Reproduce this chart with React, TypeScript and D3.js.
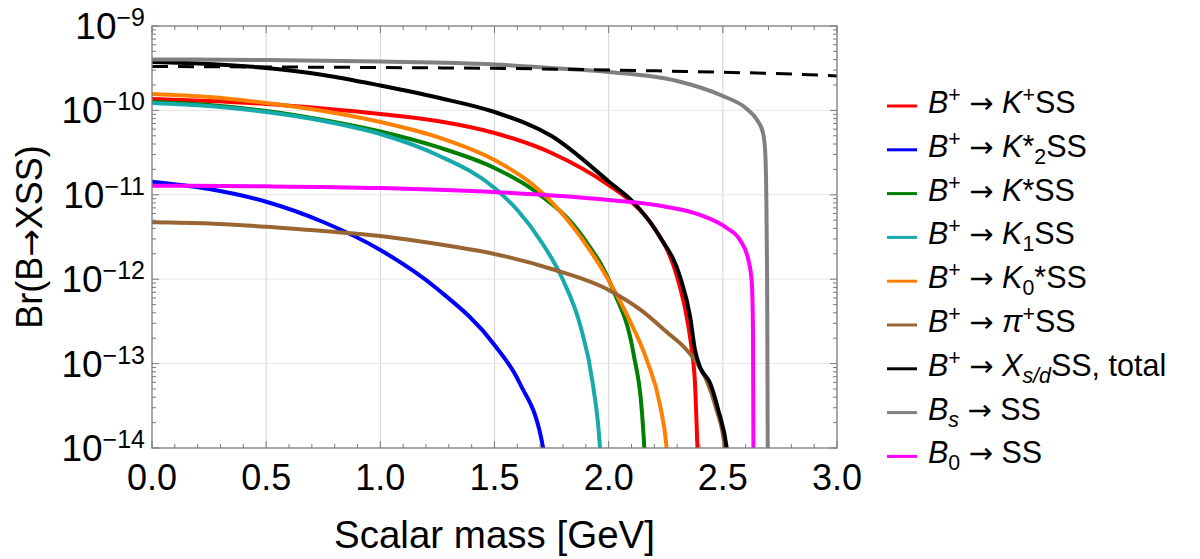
import React from 'react';
import * as d3 from 'd3';

type Pt = [number, number];

// branching ratios vs scalar mass [GeV]
const kPlus: Pt[] = [
  [0, 1.365e-10], [0.25, 1.292e-10], [0.5, 1.19e-10], [0.75, 1.053e-10], [1.0, 9.06e-11],
  [1.25, 7.49e-11], [1.5, 5.4e-11], [1.75, 3.13e-11], [2.0, 1.306e-11], [2.1, 8.21e-12],
  [2.2, 4.04e-12], [2.3, 1.06e-12], [2.342, 3.56e-13], [2.364, 1.45e-13],
  [2.378, 5.89e-14], [2.389, 1.0e-14], [2.395, 4.2e-15],
];
const kStar2: Pt[] = [
  [0, 1.43e-11], [0.25, 1.17e-11], [0.5, 8.28e-12], [0.75, 4.76e-12], [1.0, 2.22e-12],
  [1.25, 7.65e-13], [1.5, 1.66e-13], [1.61, 5.89e-14], [1.713, 1.0e-14], [1.73, 4.2e-15],
];
const kStar: Pt[] = [
  [0, 1.257e-10], [0.25, 1.159e-10], [0.5, 9.84e-11], [0.75, 7.7e-11], [1.0, 5.62e-11],
  [1.25, 3.69e-11], [1.5, 2.08e-11], [1.67, 1.14e-11], [1.89, 3.08e-12], [2.02, 7.45e-13],
  [2.11, 1.26e-13], [2.145, 2.82e-14], [2.156, 1.0e-14], [2.162, 4.2e-15],
];
const k1: Pt[] = [
  [0, 1.224e-10], [0.25, 1.127e-10], [0.5, 9.57e-11], [0.75, 7.49e-11], [1.0, 5.25e-11],
  [1.25, 2.96e-11], [1.5, 1.204e-11], [1.6, 6.61e-12], [1.7, 2.91e-12], [1.8, 9.78e-13],
  [1.875, 2.87e-13], [1.93, 5.89e-14], [1.962, 1.0e-14], [1.97, 4.2e-15],
];
const k0Star: Pt[] = [
  [0, 1.564e-10], [0.25, 1.441e-10], [0.5, 1.224e-10], [0.75, 9.84e-11], [1.0, 7.29e-11],
  [1.25, 4.84e-11], [1.5, 2.58e-11], [1.67, 1.306e-11], [1.82, 5.03e-12], [1.96, 1.47e-12],
  [2.08, 3.77e-13], [2.167, 1.1e-13], [2.225, 3.23e-14], [2.254, 1.0e-14], [2.265, 4.2e-15],
];
const piPlus: Pt[] = [
  [0, 4.72e-12], [0.25, 4.57e-12], [0.5, 4.19e-12], [0.75, 3.72e-12], [1.0, 3.25e-12],
  [1.25, 2.61e-12], [1.5, 1.99e-12], [1.75, 1.32e-12], [2.0, 7.45e-13], [2.14, 4.32e-13],
  [2.254, 2.37e-13], [2.342, 1.45e-13], [2.386, 1.02e-13], [2.43, 6.22e-14], [2.47, 2.98e-14],
  [2.51, 9.5e-15], [2.52, 4.2e-15],
];
const total: Pt[] = [
  [0, 3.75e-10], [0.25, 3.55e-10], [0.5, 3.18e-10], [0.75, 2.63e-10], [1.0, 1.97e-10],
  [1.25, 1.42e-10], [1.5, 9.57e-11], [1.75, 4.97e-11], [2.0, 1.44e-11],
  [2.12, 7.57e-12], [2.225, 3.16e-12], [2.313, 1.06e-12], [2.357, 3.56e-13], [2.378, 1.45e-13],
  [2.4, 9.12e-14], [2.444, 5.89e-14], [2.48, 2.82e-14], [2.517, 1.0e-14], [2.53, 4.8e-15],
];
const bsSS: Pt[] = [
  [0, 4.01e-10], [0.5, 3.95e-10], [1.0, 3.79e-10], [1.5, 3.5e-10], [1.75, 3.18e-10],
  [2.0, 2.85e-10], [2.3, 2.23e-10], [2.5, 1.48e-10], [2.6, 1.07e-10], [2.65, 7.69e-11],
  [2.675, 5.55e-11], [2.685, 3.4e-11], [2.69, 1.14e-11], [2.694, 9.8e-13], [2.698, 1.0e-15],
];
const b0SS: Pt[] = [
  [0, 1.28e-11], [0.5, 1.26e-11], [1.0, 1.204e-11], [1.5, 1.079e-11], [2.0, 8.68e-12],
  [2.25, 7.23e-12], [2.4, 5.77e-12], [2.517, 4.04e-12], [2.575, 2.91e-12], [2.612, 1.69e-12],
  [2.627, 9.02e-13], [2.632, 2.5e-13], [2.634, 1.0e-14], [2.636, 4.2e-15],
];
// upper limit, dashed
const bound: Pt[] = [
  [0, 3.31e-10], [0.5, 3.27e-10], [1.0, 3.22e-10], [1.5, 3.15e-10], [2.0, 3.01e-10],
  [2.5, 2.83e-10], [2.8, 2.7e-10], [3.0, 2.56e-10],
];

type Seg = { t: string; it?: boolean; sup?: boolean; sub?: boolean; sym?: boolean };
const arrow: Seg[] = [{ t: ' ' }, { t: '\u2192', sym: true }, { t: ' ' }];
const bPlus: Seg[] = [{ t: 'B', it: true }, { t: '+', sup: true }, ...arrow];

const series: { data: Pt[]; color: string; label: Seg[] }[] = [
  { data: kPlus, color: '#ff0000', label: [...bPlus, { t: 'K', it: true }, { t: '+', sup: true }, { t: 'SS' }] },
  { data: kStar2, color: '#0000ff', label: [...bPlus, { t: 'K', it: true }, { t: '*' }, { t: '2', sub: true }, { t: 'SS' }] },
  { data: kStar, color: '#007f00', label: [...bPlus, { t: 'K', it: true }, { t: '*SS' }] },
  { data: k1, color: '#17aaaa', label: [...bPlus, { t: 'K', it: true }, { t: '1', sub: true }, { t: 'SS' }] },
  { data: k0Star, color: '#ff8000', label: [...bPlus, { t: 'K', it: true }, { t: '0', sub: true }, { t: '*SS' }] },
  { data: piPlus, color: '#996633', label: [...bPlus, { t: '\u03c0', it: true }, { t: '+', sup: true }, { t: 'SS' }] },
  { data: total, color: '#000000', label: [...bPlus, { t: 'X', it: true }, { t: 's/d', sub: true, it: true }, { t: 'SS, total' }] },
  { data: bsSS, color: '#808080', label: [{ t: 'B', it: true }, { t: 's', sub: true, it: true }, ...arrow, { t: 'SS' }] },
  { data: b0SS, color: '#ff00ff', label: [{ t: 'B', it: true }, { t: '0', sub: true }, ...arrow, { t: 'SS' }] },
];

const xTicks = [0, 0.5, 1.0, 1.5, 2.0, 2.5, 3.0];
const yExponents = [-9, -10, -11, -12, -13, -14];

const W = 1200;
const H = 559;
const FONT = '"Liberation Sans", Arial, Helvetica, sans-serif';
const SYM_FONT = '"DejaVu Sans", sans-serif';

function RichText({ segs, x, y, size }: { segs: Seg[]; x: number; y: number; size: number }) {
  let shift = 0;
  return (
    <text x={x} y={y} fontSize={size} fontFamily={FONT} fill="#000">
      {segs.map((s, i) => {
        const target = s.sup ? -11 : s.sub ? 7 : 0;
        const dy = target - shift;
        shift = target;
        return (
          <tspan key={i} dy={dy} fontStyle={s.it ? 'italic' : 'normal'}
            fontFamily={s.sym ? SYM_FONT : FONT}
            fontSize={s.sup || s.sub ? size * 0.7 : s.sym ? size * 0.95 : size}>
            {s.t}
          </tspan>
        );
      })}
    </text>
  );
}

export default function App() {
  const left = 152, right = 837, top = 26, bottom = 448;
  const x = d3.scaleLinear().domain([0, 3]).range([left, right]);
  const y = d3.scaleLog().domain([1e-14, 1e-9]).range([bottom, top]);
  const line = d3.line<Pt>().x(d => x(d[0])).y(d => y(d[1])).curve(d3.curveMonotoneX);

  const xMinor = d3.range(0, 31).map(i => i / 10).filter(v => Math.round(v * 10) % 5 !== 0);
  const yMinor: number[] = [];
  for (let e = -14; e < -9; e++) for (let k = 2; k <= 9; k++) yMinor.push(k * Math.pow(10, e));

  const axisColor = '#7a7a7a';

  return (
    <svg width={W} height={H} style={{ position: 'absolute', left: 0, top: 0, background: '#fff' }}>
      <defs>
        <clipPath id="plotArea">
          <rect x={left} y={top} width={right - left} height={bottom - top} />
        </clipPath>
      </defs>
      <rect width={W} height={H} fill="#fff" />

      {/* grid */}
      {xTicks.slice(1, -1).map(v => (
        <line key={'gx' + v} x1={x(v)} x2={x(v)} y1={top} y2={bottom} stroke="#d4d4d4" strokeWidth={1} />
      ))}
      {yExponents.slice(1, -1).map(e => (
        <line key={'gy' + e} x1={left} x2={right} y1={y(Math.pow(10, e))} y2={y(Math.pow(10, e))} stroke="#e6e6e6" strokeWidth={1} />
      ))}

      {/* curves */}
      <g clipPath="url(#plotArea)" fill="none" strokeLinejoin="round">
        {series.map((s, i) => (
          <path key={i} d={line(s.data) ?? ''} stroke={s.color} strokeWidth={4} />
        ))}
        <path d={line(bound) ?? ''} stroke="#000" strokeWidth={3} strokeDasharray="16,10" />
      </g>

      {/* frame and ticks */}
      <rect x={left} y={top} width={right - left} height={bottom - top} fill="none" stroke={axisColor} strokeWidth={1.3} />
      <g stroke={axisColor} strokeWidth={1}>
        {xTicks.map(v => (
          <g key={'tx' + v}>
            <line x1={x(v)} x2={x(v)} y1={bottom} y2={bottom - 7} />
            <line x1={x(v)} x2={x(v)} y1={top} y2={top + 7} />
          </g>
        ))}
        {xMinor.map(v => (
          <g key={'mx' + v}>
            <line x1={x(v)} x2={x(v)} y1={bottom} y2={bottom - 4} />
            <line x1={x(v)} x2={x(v)} y1={top} y2={top + 4} />
          </g>
        ))}
        {yExponents.map(e => (
          <g key={'ty' + e}>
            <line x1={left} x2={left + 7} y1={y(Math.pow(10, e))} y2={y(Math.pow(10, e))} />
            <line x1={right} x2={right - 7} y1={y(Math.pow(10, e))} y2={y(Math.pow(10, e))} />
          </g>
        ))}
        {yMinor.map((v, i) => (
          <g key={'my' + i}>
            <line x1={left} x2={left + 4} y1={y(v)} y2={y(v)} />
            <line x1={right} x2={right - 4} y1={y(v)} y2={y(v)} />
          </g>
        ))}
      </g>

      {/* tick labels */}
      {xTicks.map(v => (
        <text key={'lx' + v} x={x(v)} y={490} textAnchor="middle" fontSize={36} fontFamily={FONT}>
          {v.toFixed(1)}
        </text>
      ))}
      {yExponents.map(e => (
        <text key={'ly' + e} x={145} y={y(Math.pow(10, e)) + 13} textAnchor="end" fontSize={37} fontFamily={FONT}>
          10<tspan dy={-13} fontSize={25}>{'\u2212' + Math.abs(e)}</tspan>
        </text>
      ))}

      {/* axis titles */}
      <text x={(left + right) / 2} y={548} textAnchor="middle" fontSize={38.5} fontFamily={FONT}>
        Scalar mass [GeV]
      </text>
      <text transform={`translate(42,${(top + bottom) / 2}) rotate(-90)`} textAnchor="middle" fontSize={36} fontFamily={FONT}>
        Br(B<tspan fontFamily={SYM_FONT} fontSize={33}>{'\u2192'}</tspan>XSS)
      </text>

      {/* legend */}
      {series.map((s, i) => {
        const ly = 106 + i * 43.8;
        return (
          <g key={'lg' + i}>
            <line x1={887} x2={917} y1={ly} y2={ly} stroke={s.color} strokeWidth={3} />
            <RichText segs={s.label} x={928} y={ly + 7} size={30.5} />
          </g>
        );
      })}
    </svg>
  );
}
